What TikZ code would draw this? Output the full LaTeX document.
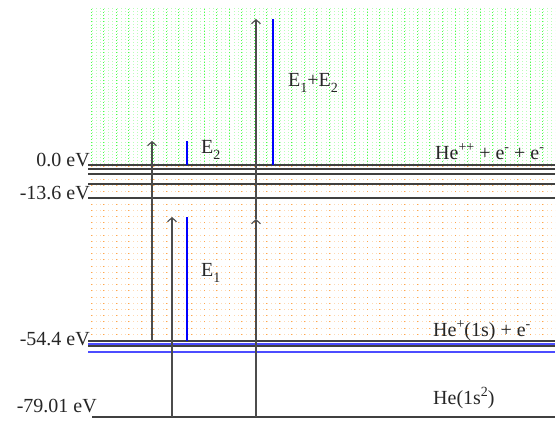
\documentclass[tikz,border=0pt]{standalone}
\usepackage{fontspec}
\setmainfont{Liberation Serif}
\usetikzlibrary{arrows.meta,patterns}

\pgfdeclarepatternformonly{finedots}{\pgfqpoint{-1pt}{-1pt}}{\pgfqpoint{1pt}{1pt}}{\pgfqpoint{4.18pt}{3.1pt}}%
  {\pgfpathrectangle{\pgfqpoint{-0.45pt}{-0.45pt}}{\pgfqpoint{0.9pt}{0.9pt}}\pgfusepath{fill}}
\pgfdeclarepatternformonly{sparsedots}{\pgfqpoint{-1pt}{-1pt}}{\pgfqpoint{1pt}{1pt}}{\pgfqpoint{4.18pt}{6.2pt}}%
  {\pgfpathrectangle{\pgfqpoint{-0.45pt}{-0.45pt}}{\pgfqpoint{0.9pt}{0.9pt}}\pgfusepath{fill}}
\newcommand{\lowsub}[1]{\raisebox{-6pt}{\fontsize{14}{14}\selectfont #1}}
\newcommand{\highsup}[1]{\raisebox{8pt}{\fontsize{14}{14}\selectfont #1}}

\begin{document}
\begin{tikzpicture}[x=1pt,y=1pt,
  level/.style={draw=black!75,line width=1.2pt},
  sublevel/.style={draw=blue!70,line width=1.1pt},
  excite/.style={draw=black!70,line width=1.1pt,-{Straight Barb[length=4pt,width=9pt]}},
  photon/.style={draw=blue,line width=1.8pt},
  energy/.style={font=\fontsize{20}{24}\selectfont,text=black!85,inner sep=0pt},
  state/.style={font=\fontsize{20}{24}\selectfont,text=black!85,inner sep=0pt},
]
\useasboundingbox (0,0) rectangle (558,421);

% continuum above 0 eV, bound region below
\fill[pattern=finedots,pattern color=green!28] (88,256) rectangle (555,412);
\foreach \x in {91,103.55,...,555}
  \draw[green!70,line width=0.9pt,dash pattern=on 0.9pt off 2.2pt] (\x,256) -- (\x,412);
\fill[pattern=sparsedots,pattern color=orange!30] (88,80) rectangle (555,256);
\foreach \x in {91,103.55,...,555}
  \draw[orange!70,line width=0.9pt,dash pattern=on 0.9pt off 5.3pt] (\x,80) -- (\x,256);

\foreach \y in {256,252,247,237,223,80,75}
  \draw[level] (88,\y) -- (555,\y);
\foreach \y in {77,69}
  \draw[sublevel] (88,\y) -- (555,\y);
\draw[level] (92,4) -- (555,4);

\node[energy,anchor=base east] (ezero) at (90,254) {0.0 eV};
\node[energy,anchor=base east] (eryd) at (90,221) {-13.6 eV};
\node[energy,anchor=base east] (eion) at (90,75) {-54.4 eV};
\node[energy,anchor=base east] (eground) at (97,8) {-79.01 eV};

\node[state,anchor=base west] (hedouble) at (435,261) {He\highsup{++} + e\highsup{-} + e\highsup{-}};
\node[state,anchor=base west] (hesingle) at (433,84) {He\highsup{+}(1s) + e\highsup{-}};
\node[state,anchor=base west] (heneutral) at (433,16) {He(1s\highsup{2})};

\draw[excite] (152,80) -- (152,280);
\draw[excite] (172,4) -- (172,204);
\draw[excite] (256,4) -- (256,202);
\draw[excite] (256,202) -- (256,402);

\draw[photon] (187,256) -- (187,280);
\draw[photon] (187,80) -- (187,204);
\draw[photon] (273,256) -- (273,402);

\node[state,anchor=base west] (etwo) at (201,267) {E\lowsub{2}};
\node[state,anchor=base west] (eone) at (201,144) {E\lowsub{1}};
\node[state,anchor=base west] (esum) at (288,334) {E\lowsub{1}+E\lowsub{2}};

\end{tikzpicture}
\end{document}
